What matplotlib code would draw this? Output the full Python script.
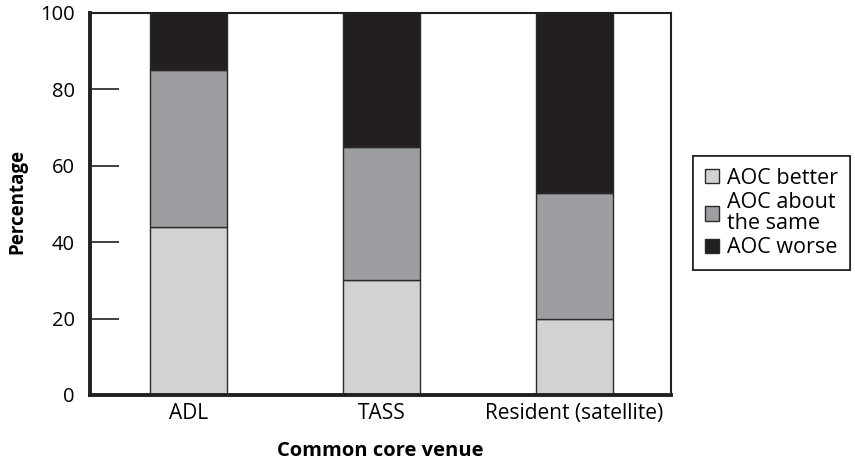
import matplotlib
matplotlib.use("Agg")
import matplotlib.pyplot as plt
import numpy as np

plt.rcParams['font.family'] = ['Open Sans', 'DejaVu Sans']

categories = ["ADL", "TASS", "Resident (satellite)"]
better = [44, 30, 20]
same = [41, 35, 33]
worse = [15, 35, 47]
series_labels = ["AOC better", "AOC about\nthe same", "AOC worse"]
colors = ["#d1d2d4", "#9d9ea2", "#231f20"]
yticks = [0, 20, 40, 60, 80, 100]

fig = plt.figure(figsize=(8.55, 4.66), dpi=100)
ax = fig.add_axes([90/855, 71/466, (671-90)/855, (395-13)/466])

x = np.arange(len(categories))
w = 0.40
ax.bar(x, better, w, color=colors[0], edgecolor="#2a2a2a", linewidth=1.0, label=series_labels[0])
ax.bar(x, same, w, bottom=better, color=colors[1], edgecolor="#2a2a2a", linewidth=1.0, label=series_labels[1])
bottom2 = [a + b for a, b in zip(better, same)]
ax.bar(x, worse, w, bottom=bottom2, color=colors[2], edgecolor="#2a2a2a", linewidth=1.0, label=series_labels[2])

ax.set_xlim(-0.51, 2.5)
ax.set_ylim(0, 100)
ax.set_yticks(yticks)
ax.set_xticks(x)
ax.set_xticklabels(categories, fontsize=15)
ax.tick_params(axis='y', direction='in', length=21, width=1.2, labelsize=14.5, pad=11, color="#231f20")
ax.tick_params(axis='x', length=0, pad=6)
for s in ['left', 'bottom']:
    ax.spines[s].set_linewidth(2.8)
    ax.spines[s].set_color("#231f20")
for s in ['top', 'right']:
    ax.spines[s].set_linewidth(1.5)
    ax.spines[s].set_color("#231f20")

fig.text(17/855, 1 - 201/466, "Percentage", fontsize=13.5, fontweight='bold',
         rotation=90, ha='center', va='center')
fig.text(380/855, 1 - 451/466, "Common core venue", fontsize=14.5, fontweight='bold',
         ha='center', va='center')

leg = ax.legend(loc='upper left', bbox_to_anchor=(693/855, 1 - 156/466),
                bbox_transform=fig.transFigure, fontsize=15.5,
                frameon=True, fancybox=False,
                shadow={'ox': 5/72, 'oy': -5/72, 'color': '#231f20', 'alpha': 1},
                edgecolor="#231f20", handlelength=0.65, handleheight=0.65, handletextpad=0.4,
                labelspacing=0.15, borderpad=0.55, borderaxespad=0)
leg.get_frame().set_linewidth(1.2)
for t in leg.get_texts():
    t.set_linespacing(1.0)

fig.savefig("out.png", dpi=100)
